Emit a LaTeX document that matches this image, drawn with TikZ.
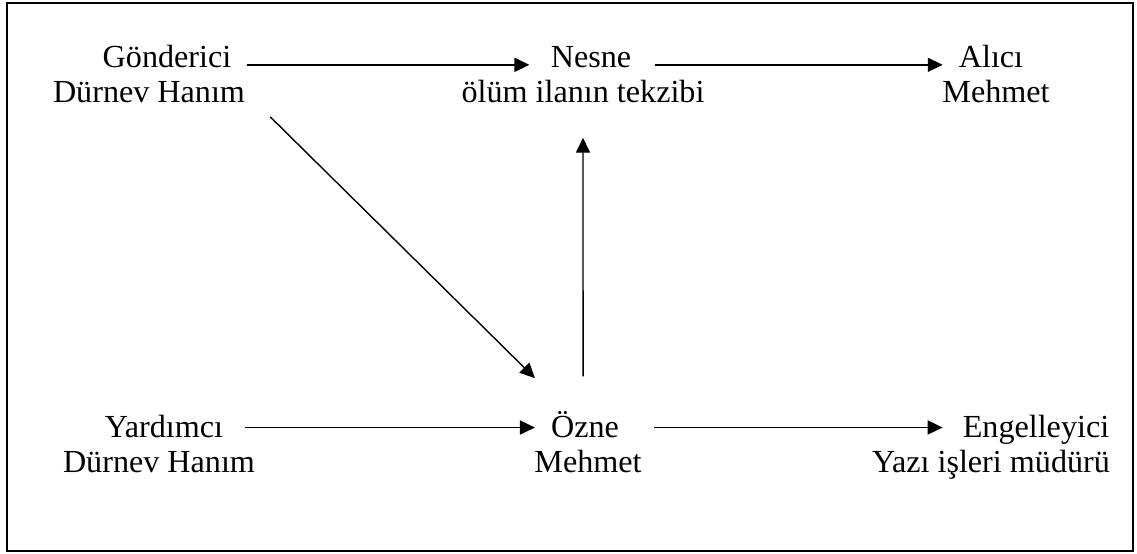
\documentclass[tikz,border=0pt]{standalone}
\usepackage{fontspec}
\setmainfont{Liberation Serif}
\usetikzlibrary{arrows.meta}

\begin{document}
\begin{tikzpicture}[x=0.02cm, y=-0.02cm,
  lbl/.style={inner sep=0pt, anchor=base, font=\fontsize{18.3}{22}\selectfont},
  arr/.style={line width=0.8pt, -{Triangle[length=8.5pt,width=8pt]}}]
  \useasboundingbox (0,0) rectangle (1137,554);
  \draw[line width=1.4pt] (7,3) rectangle (1133,551);

  % Nodes
  \foreach \n/\x/\y/\t in {g/167/68/Gönderici, gn/149/103/Dürnev Hanım,
                           n/591/68/Nesne, nn/583/103/ölüm ilanın tekzibi,
                           a/991/68/Alıcı, an/996/103/Mehmet}{
    \node[lbl] (\n) at (\x,\y) {\t};
  }
  \foreach \n/\x/\y/\t in {y/164/437/Yardımcı, yn/159/472/Dürnev Hanım,
                           o/585/437/Özne, on/588/472/Mehmet,
                           e/1036/437/Engelleyici, en/991/472/Yazı işleri müdürü}{
    \node[lbl] (\n) at (\x,\y) {\t};
  }

  % Edges
  \draw[arr, shorten <=8.5pt, shorten >=12pt]
    ([yshift=1.8pt]g.base east) -- ([yshift=1.8pt]n.base west);
  \draw[arr, shorten <=13.6pt, shorten >=9pt]
    ([yshift=1.8pt]n.base east) -- ([yshift=1.8pt]a.base west);
  \draw[arr] ([xshift=14.2pt, yshift=-7.9pt]gn.base east)
    -- ([xshift=-9pt, yshift=33.5pt]o.base west);
  \draw[arr] ([xshift=-1.1pt, yshift=34.5pt]o.base) -- ([yshift=-19.8pt]nn.base);
  \draw[arr, shorten <=12pt, shorten >=9pt]
    ([yshift=5.4pt]y.base east) -- ([yshift=5.4pt]o.base west);
  \draw[arr, shorten <=20pt, shorten >=11.3pt]
    ([yshift=5.4pt]o.base east) -- ([yshift=5.4pt]e.base west);

\end{tikzpicture}
\end{document}
